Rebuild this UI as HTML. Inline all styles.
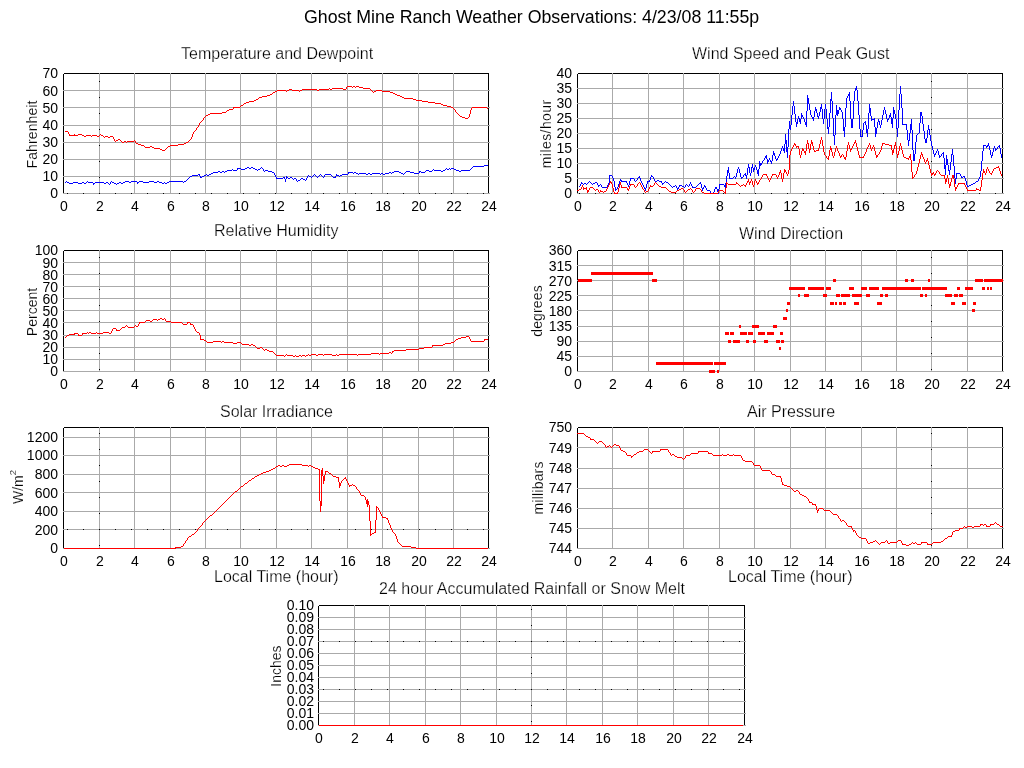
<!DOCTYPE html><html><head><meta charset="utf-8"><style>html,body{margin:0;padding:0;background:#fff;width:1024px;height:768px;overflow:hidden}</style></head><body><svg width="1024" height="768" viewBox="0 0 1024 768" style="display:block;will-change:transform;font-family:'Liberation Sans',sans-serif" shape-rendering="crispEdges">
<style>.t16{stroke:#fff;stroke-width:0.25px}.t14{stroke:#fff;stroke-width:0.15px}</style>
<rect width="1024" height="768" fill="#fff"/>
<path d="M63.5 193V74M64 73.5H489M488.5 73V193" stroke="#000" fill="none"/>
<path d="M99.5 73V194M134.5 73V194M170.5 73V194M205.5 73V194M240.5 73V194M276.5 73V194M311.5 73V194M347.5 73V194M382.5 73V194M418.5 73V194M453.5 73V194M63 90.5H490M63 107.5H490M63 125.5H490M63 142.5H490M63 159.5H490M63 176.5H490M63 193.5H490" stroke="#aaaaaa" fill="none"/>
<text x="58" y="198" font-size="14" text-anchor="end" >0</text>
<text x="58" y="181" font-size="14" text-anchor="end" >10</text>
<text x="58" y="164" font-size="14" text-anchor="end" >20</text>
<text x="58" y="147" font-size="14" text-anchor="end" >30</text>
<text x="58" y="130" font-size="14" text-anchor="end" >40</text>
<text x="58" y="113" font-size="14" text-anchor="end" >50</text>
<text x="58" y="96" font-size="14" text-anchor="end" >60</text>
<text x="58" y="78" font-size="14" text-anchor="end" >70</text>
<text x="64" y="211" font-size="14" text-anchor="middle" >0</text>
<text x="100" y="211" font-size="14" text-anchor="middle" >2</text>
<text x="135" y="211" font-size="14" text-anchor="middle" >4</text>
<text x="171" y="211" font-size="14" text-anchor="middle" >6</text>
<text x="206" y="211" font-size="14" text-anchor="middle" >8</text>
<text x="241" y="211" font-size="14" text-anchor="middle" >10</text>
<text x="277" y="211" font-size="14" text-anchor="middle" >12</text>
<text x="312" y="211" font-size="14" text-anchor="middle" >14</text>
<text x="348" y="211" font-size="14" text-anchor="middle" >16</text>
<text x="383" y="211" font-size="14" text-anchor="middle" >18</text>
<text x="419" y="211" font-size="14" text-anchor="middle" >20</text>
<text x="454" y="211" font-size="14" text-anchor="middle" >22</text>
<text x="489" y="211" font-size="14" text-anchor="middle" >24</text>
<path d="M577.5 193V74M578 73.5H1003M1002.5 73V193" stroke="#000" fill="none"/>
<path d="M612.5 73V194M648.5 73V194M683.5 73V194M719.5 73V194M754.5 73V194M790.5 73V194M825.5 73V194M861.5 73V194M896.5 73V194M931.5 73V194M967.5 73V194M577 88.5H1004M577 103.5H1004M577 118.5H1004M577 133.5H1004M577 148.5H1004M577 163.5H1004M577 178.5H1004M577 193.5H1004" stroke="#aaaaaa" fill="none"/>
<text x="572" y="198" font-size="14" text-anchor="end" >0</text>
<text x="572" y="183" font-size="14" text-anchor="end" >5</text>
<text x="572" y="168" font-size="14" text-anchor="end" >10</text>
<text x="572" y="153" font-size="14" text-anchor="end" >15</text>
<text x="572" y="138" font-size="14" text-anchor="end" >20</text>
<text x="572" y="123" font-size="14" text-anchor="end" >25</text>
<text x="572" y="108" font-size="14" text-anchor="end" >30</text>
<text x="572" y="93" font-size="14" text-anchor="end" >35</text>
<text x="572" y="78" font-size="14" text-anchor="end" >40</text>
<text x="578" y="211" font-size="14" text-anchor="middle" >0</text>
<text x="613" y="211" font-size="14" text-anchor="middle" >2</text>
<text x="649" y="211" font-size="14" text-anchor="middle" >4</text>
<text x="684" y="211" font-size="14" text-anchor="middle" >6</text>
<text x="720" y="211" font-size="14" text-anchor="middle" >8</text>
<text x="755" y="211" font-size="14" text-anchor="middle" >10</text>
<text x="791" y="211" font-size="14" text-anchor="middle" >12</text>
<text x="826" y="211" font-size="14" text-anchor="middle" >14</text>
<text x="862" y="211" font-size="14" text-anchor="middle" >16</text>
<text x="897" y="211" font-size="14" text-anchor="middle" >18</text>
<text x="932" y="211" font-size="14" text-anchor="middle" >20</text>
<text x="968" y="211" font-size="14" text-anchor="middle" >22</text>
<text x="1003" y="211" font-size="14" text-anchor="middle" >24</text>
<path d="M63.5 371V251M64 250.5H489M488.5 250V371" stroke="#000" fill="none"/>
<path d="M99.5 250V372M134.5 250V372M170.5 250V372M205.5 250V372M240.5 250V372M276.5 250V372M311.5 250V372M347.5 250V372M382.5 250V372M418.5 250V372M453.5 250V372M63 262.5H490M63 274.5H490M63 286.5H490M63 298.5H490M63 310.5H490M63 322.5H490M63 335.5H490M63 347.5H490M63 359.5H490M63 371.5H490" stroke="#aaaaaa" fill="none"/>
<text x="58" y="376" font-size="14" text-anchor="end" >0</text>
<text x="58" y="364" font-size="14" text-anchor="end" >10</text>
<text x="58" y="352" font-size="14" text-anchor="end" >20</text>
<text x="58" y="340" font-size="14" text-anchor="end" >30</text>
<text x="58" y="328" font-size="14" text-anchor="end" >40</text>
<text x="58" y="316" font-size="14" text-anchor="end" >50</text>
<text x="58" y="304" font-size="14" text-anchor="end" >60</text>
<text x="58" y="292" font-size="14" text-anchor="end" >70</text>
<text x="58" y="280" font-size="14" text-anchor="end" >80</text>
<text x="58" y="268" font-size="14" text-anchor="end" >90</text>
<text x="58" y="255" font-size="14" text-anchor="end" >100</text>
<text x="64" y="389" font-size="14" text-anchor="middle" >0</text>
<text x="100" y="389" font-size="14" text-anchor="middle" >2</text>
<text x="135" y="389" font-size="14" text-anchor="middle" >4</text>
<text x="171" y="389" font-size="14" text-anchor="middle" >6</text>
<text x="206" y="389" font-size="14" text-anchor="middle" >8</text>
<text x="241" y="389" font-size="14" text-anchor="middle" >10</text>
<text x="277" y="389" font-size="14" text-anchor="middle" >12</text>
<text x="312" y="389" font-size="14" text-anchor="middle" >14</text>
<text x="348" y="389" font-size="14" text-anchor="middle" >16</text>
<text x="383" y="389" font-size="14" text-anchor="middle" >18</text>
<text x="419" y="389" font-size="14" text-anchor="middle" >20</text>
<text x="454" y="389" font-size="14" text-anchor="middle" >22</text>
<text x="489" y="389" font-size="14" text-anchor="middle" >24</text>
<path d="M577.5 371V251M578 250.5H1003M1002.5 250V371" stroke="#000" fill="none"/>
<path d="M612.5 250V372M648.5 250V372M683.5 250V372M719.5 250V372M754.5 250V372M790.5 250V372M825.5 250V372M861.5 250V372M896.5 250V372M931.5 250V372M967.5 250V372M577 265.5H1004M577 280.5H1004M577 295.5H1004M577 310.5H1004M577 326.5H1004M577 341.5H1004M577 356.5H1004M577 371.5H1004" stroke="#aaaaaa" fill="none"/>
<text x="572" y="376" font-size="14" text-anchor="end" >0</text>
<text x="572" y="361" font-size="14" text-anchor="end" >45</text>
<text x="572" y="346" font-size="14" text-anchor="end" >90</text>
<text x="572" y="331" font-size="14" text-anchor="end" >135</text>
<text x="572" y="316" font-size="14" text-anchor="end" >180</text>
<text x="572" y="301" font-size="14" text-anchor="end" >225</text>
<text x="572" y="286" font-size="14" text-anchor="end" >270</text>
<text x="572" y="271" font-size="14" text-anchor="end" >315</text>
<text x="572" y="255" font-size="14" text-anchor="end" >360</text>
<text x="578" y="389" font-size="14" text-anchor="middle" >0</text>
<text x="613" y="389" font-size="14" text-anchor="middle" >2</text>
<text x="649" y="389" font-size="14" text-anchor="middle" >4</text>
<text x="684" y="389" font-size="14" text-anchor="middle" >6</text>
<text x="720" y="389" font-size="14" text-anchor="middle" >8</text>
<text x="755" y="389" font-size="14" text-anchor="middle" >10</text>
<text x="791" y="389" font-size="14" text-anchor="middle" >12</text>
<text x="826" y="389" font-size="14" text-anchor="middle" >14</text>
<text x="862" y="389" font-size="14" text-anchor="middle" >16</text>
<text x="897" y="389" font-size="14" text-anchor="middle" >18</text>
<text x="932" y="389" font-size="14" text-anchor="middle" >20</text>
<text x="968" y="389" font-size="14" text-anchor="middle" >22</text>
<text x="1003" y="389" font-size="14" text-anchor="middle" >24</text>
<path d="M63.5 548V428M64 427.5H489M488.5 427V548" stroke="#000" fill="none"/>
<path d="M99.5 427V549M134.5 427V549M170.5 427V549M205.5 427V549M240.5 427V549M276.5 427V549M311.5 427V549M347.5 427V549M382.5 427V549M418.5 427V549M453.5 427V549M63 437.5H490M63 455.5H490M63 474.5H490M63 492.5H490M63 511.5H490M63 529.5H490M63 548.5H490" stroke="#aaaaaa" fill="none"/>
<text x="58" y="553" font-size="14" text-anchor="end" >0</text>
<text x="58" y="535" font-size="14" text-anchor="end" >200</text>
<text x="58" y="516" font-size="14" text-anchor="end" >400</text>
<text x="58" y="498" font-size="14" text-anchor="end" >600</text>
<text x="58" y="479" font-size="14" text-anchor="end" >800</text>
<text x="58" y="460" font-size="14" text-anchor="end" >1000</text>
<text x="58" y="442" font-size="14" text-anchor="end" >1200</text>
<text x="64" y="566" font-size="14" text-anchor="middle" >0</text>
<text x="100" y="566" font-size="14" text-anchor="middle" >2</text>
<text x="135" y="566" font-size="14" text-anchor="middle" >4</text>
<text x="171" y="566" font-size="14" text-anchor="middle" >6</text>
<text x="206" y="566" font-size="14" text-anchor="middle" >8</text>
<text x="241" y="566" font-size="14" text-anchor="middle" >10</text>
<text x="277" y="566" font-size="14" text-anchor="middle" >12</text>
<text x="312" y="566" font-size="14" text-anchor="middle" >14</text>
<text x="348" y="566" font-size="14" text-anchor="middle" >16</text>
<text x="383" y="566" font-size="14" text-anchor="middle" >18</text>
<text x="419" y="566" font-size="14" text-anchor="middle" >20</text>
<text x="454" y="566" font-size="14" text-anchor="middle" >22</text>
<text x="489" y="566" font-size="14" text-anchor="middle" >24</text>
<path d="M577.5 548V428M578 427.5H1003M1002.5 427V548" stroke="#000" fill="none"/>
<path d="M612.5 427V549M648.5 427V549M683.5 427V549M719.5 427V549M754.5 427V549M790.5 427V549M825.5 427V549M861.5 427V549M896.5 427V549M931.5 427V549M967.5 427V549M577 447.5H1004M577 468.5H1004M577 488.5H1004M577 508.5H1004M577 528.5H1004M577 548.5H1004" stroke="#aaaaaa" fill="none"/>
<text x="572" y="553" font-size="14" text-anchor="end" >744</text>
<text x="572" y="533" font-size="14" text-anchor="end" >745</text>
<text x="572" y="513" font-size="14" text-anchor="end" >746</text>
<text x="572" y="493" font-size="14" text-anchor="end" >747</text>
<text x="572" y="473" font-size="14" text-anchor="end" >748</text>
<text x="572" y="453" font-size="14" text-anchor="end" >749</text>
<text x="572" y="432" font-size="14" text-anchor="end" >750</text>
<text x="578" y="566" font-size="14" text-anchor="middle" >0</text>
<text x="613" y="566" font-size="14" text-anchor="middle" >2</text>
<text x="649" y="566" font-size="14" text-anchor="middle" >4</text>
<text x="684" y="566" font-size="14" text-anchor="middle" >6</text>
<text x="720" y="566" font-size="14" text-anchor="middle" >8</text>
<text x="755" y="566" font-size="14" text-anchor="middle" >10</text>
<text x="791" y="566" font-size="14" text-anchor="middle" >12</text>
<text x="826" y="566" font-size="14" text-anchor="middle" >14</text>
<text x="862" y="566" font-size="14" text-anchor="middle" >16</text>
<text x="897" y="566" font-size="14" text-anchor="middle" >18</text>
<text x="932" y="566" font-size="14" text-anchor="middle" >20</text>
<text x="968" y="566" font-size="14" text-anchor="middle" >22</text>
<text x="1003" y="566" font-size="14" text-anchor="middle" >24</text>
<path d="M318.5 725V606M319 605.5H745M744.5 605V725" stroke="#000" fill="none"/>
<path d="M354.5 605V726M389.5 605V726M425.5 605V726M460.5 605V726M496.5 605V726M531.5 605V726M566.5 605V726M602.5 605V726M637.5 605V726M673.5 605V726M708.5 605V726M318 617.5H746M318 629.5H746M318 641.5H746M318 653.5H746M318 665.5H746M318 677.5H746M318 689.5H746M318 701.5H746M318 713.5H746M318 725.5H746" stroke="#aaaaaa" fill="none"/>
<text x="314" y="730" font-size="14" text-anchor="end" >0.00</text>
<text x="314" y="718" font-size="14" text-anchor="end" >0.01</text>
<text x="314" y="706" font-size="14" text-anchor="end" >0.02</text>
<text x="314" y="694" font-size="14" text-anchor="end" >0.03</text>
<text x="314" y="682" font-size="14" text-anchor="end" >0.04</text>
<text x="314" y="670" font-size="14" text-anchor="end" >0.05</text>
<text x="314" y="658" font-size="14" text-anchor="end" >0.06</text>
<text x="314" y="646" font-size="14" text-anchor="end" >0.07</text>
<text x="314" y="634" font-size="14" text-anchor="end" >0.08</text>
<text x="314" y="622" font-size="14" text-anchor="end" >0.09</text>
<text x="314" y="610" font-size="14" text-anchor="end" >0.10</text>
<text x="319" y="743" font-size="14" text-anchor="middle" >0</text>
<text x="355" y="743" font-size="14" text-anchor="middle" >2</text>
<text x="390" y="743" font-size="14" text-anchor="middle" >4</text>
<text x="426" y="743" font-size="14" text-anchor="middle" >6</text>
<text x="461" y="743" font-size="14" text-anchor="middle" >8</text>
<text x="497" y="743" font-size="14" text-anchor="middle" >10</text>
<text x="532" y="743" font-size="14" text-anchor="middle" >12</text>
<text x="567" y="743" font-size="14" text-anchor="middle" >14</text>
<text x="603" y="743" font-size="14" text-anchor="middle" >16</text>
<text x="638" y="743" font-size="14" text-anchor="middle" >18</text>
<text x="674" y="743" font-size="14" text-anchor="middle" >20</text>
<text x="709" y="743" font-size="14" text-anchor="middle" >22</text>
<text x="745" y="743" font-size="14" text-anchor="middle" >24</text>
<path d="M99 81.5h1M99 97.5h1M99 113.5h1M99 129.5h1M99 145.5h1M99 161.5h1M99 177.5h1M99 193.5h1M67 193.5h1M83 193.5h1M99 193.5h1M115 193.5h1M131 193.5h1M147 193.5h1M163 193.5h1M179 193.5h1M195 193.5h1M211 193.5h1M227 193.5h1M243 193.5h1M259 193.5h1M275 193.5h1M291 193.5h1M307 193.5h1M323 193.5h1M339 193.5h1M355 193.5h1M371 193.5h1M387 193.5h1M403 193.5h1M419 193.5h1M435 193.5h1M451 193.5h1M467 193.5h1M483 193.5h1M931 81.5h1M931 97.5h1M931 113.5h1M931 129.5h1M931 145.5h1M931 161.5h1M931 177.5h1M931 193.5h1M579 193.5h1M595 193.5h1M611 193.5h1M627 193.5h1M643 193.5h1M659 193.5h1M675 193.5h1M691 193.5h1M707 193.5h1M723 193.5h1M739 193.5h1M755 193.5h1M771 193.5h1M787 193.5h1M803 193.5h1M819 193.5h1M835 193.5h1M851 193.5h1M867 193.5h1M883 193.5h1M899 193.5h1M915 193.5h1M931 193.5h1M947 193.5h1M963 193.5h1M979 193.5h1M995 193.5h1M99 257.5h1M99 273.5h1M99 289.5h1M99 305.5h1M99 321.5h1M99 337.5h1M99 353.5h1M99 369.5h1M931 257.5h1M931 273.5h1M931 289.5h1M931 305.5h1M931 321.5h1M931 337.5h1M931 353.5h1M931 369.5h1M99 433.5h1M99 449.5h1M99 465.5h1M99 481.5h1M99 497.5h1M99 513.5h1M99 529.5h1M99 545.5h1M67 529.5h1M83 529.5h1M99 529.5h1M115 529.5h1M131 529.5h1M147 529.5h1M163 529.5h1M179 529.5h1M195 529.5h1M211 529.5h1M227 529.5h1M243 529.5h1M259 529.5h1M275 529.5h1M291 529.5h1M307 529.5h1M323 529.5h1M339 529.5h1M355 529.5h1M371 529.5h1M387 529.5h1M403 529.5h1M419 529.5h1M435 529.5h1M451 529.5h1M467 529.5h1M483 529.5h1M931 433.5h1M931 449.5h1M931 465.5h1M931 481.5h1M931 497.5h1M931 513.5h1M931 529.5h1M931 545.5h1M531 609.5h1M531 625.5h1M531 641.5h1M531 657.5h1M531 673.5h1M531 689.5h1M531 705.5h1M531 721.5h1M323 641.5h1M339 641.5h1M355 641.5h1M371 641.5h1M387 641.5h1M403 641.5h1M419 641.5h1M435 641.5h1M451 641.5h1M467 641.5h1M483 641.5h1M499 641.5h1M515 641.5h1M531 641.5h1M547 641.5h1M563 641.5h1M579 641.5h1M595 641.5h1M611 641.5h1M627 641.5h1M643 641.5h1M659 641.5h1M675 641.5h1M691 641.5h1M707 641.5h1M723 641.5h1M739 641.5h1M323 689.5h1M339 689.5h1M355 689.5h1M371 689.5h1M387 689.5h1M403 689.5h1M419 689.5h1M435 689.5h1M451 689.5h1M467 689.5h1M483 689.5h1M499 689.5h1M515 689.5h1M531 689.5h1M547 689.5h1M563 689.5h1M579 689.5h1M595 689.5h1M611 689.5h1M627 689.5h1M643 689.5h1M659 689.5h1M675 689.5h1M691 689.5h1M707 689.5h1M723 689.5h1M739 689.5h1" stroke="#000" fill="none"/>
<text x="304" y="23" font-size="17.75" text-anchor="start" >Ghost Mine Ranch Weather Observations: 4/23/08 11:55p</text>
<text x="181" y="59" font-size="16" text-anchor="start" class="t16">Temperature and Dewpoint</text>
<text x="692" y="59" font-size="16" text-anchor="start" class="t16">Wind Speed and Peak Gust</text>
<text x="214" y="236" font-size="16" text-anchor="start" class="t16">Relative Humidity</text>
<text x="739" y="239" font-size="16" text-anchor="start" class="t16">Wind Direction</text>
<text x="220" y="417" font-size="16" text-anchor="start" class="t16">Solar Irradiance</text>
<text x="747" y="417" font-size="16" text-anchor="start" class="t16">Air Pressure</text>
<text x="214" y="582" font-size="16" text-anchor="start" class="t16">Local Time (hour)</text>
<text x="728" y="582" font-size="16" text-anchor="start" class="t16">Local Time (hour)</text>
<text x="379" y="594" font-size="16" text-anchor="start" class="t16">24 hour Accumulated Rainfall or Snow Melt</text>
<text class="t14" transform="translate(37 134.5) rotate(-90)" font-size="14" text-anchor="middle" textLength="68" lengthAdjust="spacing">Fahrenheit</text>
<text class="t14" transform="translate(551 134) rotate(-90)" font-size="14" text-anchor="middle" textLength="68.5" lengthAdjust="spacing">miles/hour</text>
<text class="t14" transform="translate(37 312) rotate(-90)" font-size="14" text-anchor="middle">Percent</text>
<text class="t14" transform="translate(542 311) rotate(-90)" font-size="14" text-anchor="middle" textLength="51.5" lengthAdjust="spacing">degrees</text>
<text class="t14" transform="translate(23 487) rotate(-90)" font-size="14" text-anchor="middle">W/m<tspan dy="-7" font-size="9.5">2</tspan></text>
<text class="t14" transform="translate(543 488) rotate(-90)" font-size="14" text-anchor="middle" textLength="53" lengthAdjust="spacing">millibars</text>
<text class="t14" transform="translate(281 666) rotate(-90)" font-size="14" text-anchor="middle">Inches</text>
<path d="M210 113.5H222M457 113.5H458M470 113.5H471M69 135.5H78M82 135.5H84M86 135.5H91M92 135.5H97M99 135.5H100M101 135.5H103M192 135.5H193M258 98.5H259M404 98.5H413M262 96.5H267M400 96.5H402M144 146.5H145M150 146.5H152M168 146.5H170M113 138.5H114M191 138.5H192M145 147.5H150M152 147.5H154M167 147.5H168M197 127.5H198M254 100.5H256M416 100.5H422M329 88.5H330M332 88.5H343M346 88.5H347M363 88.5H370M347 86.5H352M353 86.5H355M356 86.5H359M246 102.5H249M428 102.5H435M204 117.5H205M462 117.5H465M468 117.5H469M114 140.5H115M116 140.5H118M120 140.5H121M134 140.5H135M189 140.5H190M346 87.5H347M352 87.5H353M355 87.5H356M359 87.5H363M259 97.5H262M402 97.5H404M115 141.5H116M121 141.5H122M124 141.5H126M127 141.5H134M135 141.5H136M188 141.5H189M203 118.5H204M465 118.5H468M273 92.5H275M373 92.5H374M390 92.5H393M270 94.5H272M395 94.5H397M227 110.5H229M455 110.5H456M470 110.5H471M84 136.5H86M91 136.5H92M97 136.5H99M103 136.5H104M105 136.5H108M110 136.5H113M192 136.5H193M277 90.5H286M287 90.5H289M292 90.5H299M300 90.5H302M317 90.5H319M371 90.5H372M376 90.5H382M275 91.5H277M286 91.5H287M299 91.5H300M372 91.5H373M374 91.5H376M382 91.5H390M233 107.5H240M451 107.5H453M472 107.5H487M222 112.5H226M456 112.5H457M470 112.5H471M138 144.5H141M178 144.5H184M289 89.5H292M302 89.5H317M319 89.5H329M330 89.5H332M343 89.5H346M370 89.5H371M104 137.5H105M108 137.5H110M113 137.5H114M191 137.5H192M136 143.5H138M184 143.5H186M154 148.5H160M166 148.5H167M122 142.5H124M126 142.5H127M135 142.5H136M186 142.5H188M240 106.5H241M447 106.5H451M249 101.5H254M422 101.5H428M141 145.5H144M170 145.5H178M68 133.5H69M193 133.5H194M244 103.5H246M435 103.5H441M208 114.5H210M458 114.5H459M469 114.5H470M226 111.5H227M455 111.5H456M470 111.5H471M160 149.5H162M165 149.5H166M69 134.5H70M74 134.5H75M78 134.5H82M100 134.5H101M192 134.5H193M162 150.5H165M267 95.5H270M397 95.5H400M241 105.5H243M443 105.5H447M196 129.5H197M68 132.5H69M193 132.5H194M229 109.5H233M454 109.5H455M471 109.5H472M200 122.5H201M65 131.5H68M194 131.5H195M205 116.5H206M460 116.5H462M469 116.5H470M256 99.5H258M413 99.5H416M206 115.5H208M459 115.5H460M469 115.5H470M199 124.5H200M272 93.5H273M393 93.5H395M233 108.5H234M453 108.5H454M471 108.5H472M487 108.5H488M114 139.5H115M118 139.5H120M190 139.5H191M202 120.5H203M199 123.5H200M195 130.5H196M198 126.5H199M243 104.5H244M441 104.5H443M196 128.5H197M201 121.5H202M203 119.5H204M198 125.5H199" stroke="#ff0000" fill="none"/>
<path d="M66 181.5H67M87 181.5H88M111 181.5H112M125 181.5H129M131 181.5H137M139 181.5H143M149 181.5H154M157 181.5H159M169 181.5H183M184 181.5H186M285 181.5H286M297 181.5H298M198 174.5H200M206 174.5H207M209 174.5H211M274 174.5H275M314 174.5H315M320 174.5H321M325 174.5H331M336 174.5H337M342 174.5H348M358 174.5H359M366 174.5H368M370 174.5H372M380 174.5H381M383 174.5H385M403 174.5H404M218 171.5H220M222 171.5H224M225 171.5H227M264 171.5H265M268 171.5H272M394 171.5H399M406 171.5H410M419 171.5H421M425 171.5H426M429 171.5H432M441 171.5H443M459 171.5H461M227 170.5H232M233 170.5H237M257 170.5H258M263 170.5H264M265 170.5H268M426 170.5H429M432 170.5H433M434 170.5H441M443 170.5H445M456 170.5H459M461 170.5H470M69 183.5H73M78 183.5H82M84 183.5H86M93 183.5H95M104 183.5H106M108 183.5H109M110 183.5H111M114 183.5H116M117 183.5H119M121 183.5H123M137 183.5H138M162 183.5H164M165 183.5H167M213 172.5H218M220 172.5H222M224 172.5H225M272 172.5H274M348 172.5H353M354 172.5H356M389 172.5H391M392 172.5H394M399 172.5H401M405 172.5H406M410 172.5H414M419 172.5H420M421 172.5H425M192 175.5H198M199 175.5H200M204 175.5H206M207 175.5H209M275 175.5H276M308 175.5H309M313 175.5H314M315 175.5H316M319 175.5H320M321 175.5H322M324 175.5H325M331 175.5H332M336 175.5H339M340 175.5H342M473 166.5H484M237 168.5H241M245 168.5H247M249 168.5H251M253 168.5H255M260 168.5H261M262 168.5H263M446 168.5H447M449 168.5H450M451 168.5H454M471 168.5H472M188 178.5H189M276 178.5H283M284 178.5H285M286 178.5H287M288 178.5H290M292 178.5H293M294 178.5H296M301 178.5H303M306 178.5H307M211 173.5H213M274 173.5H275M348 173.5H349M353 173.5H354M356 173.5H358M359 173.5H366M368 173.5H370M372 173.5H380M381 173.5H383M385 173.5H389M391 173.5H392M401 173.5H403M404 173.5H405M414 173.5H419M189 177.5H190M200 177.5H202M276 177.5H277M283 177.5H285M286 177.5H288M290 177.5H292M307 177.5H308M311 177.5H312M317 177.5H318M323 177.5H324M333 177.5H336M232 169.5H233M237 169.5H238M241 169.5H245M255 169.5H257M258 169.5H260M263 169.5H264M433 169.5H434M445 169.5H446M447 169.5H449M450 169.5H451M454 169.5H456M470 169.5H471M93 184.5H94M109 184.5H110M116 184.5H117M65 182.5H66M67 182.5H69M73 182.5H78M82 182.5H84M86 182.5H87M88 182.5H93M95 182.5H104M106 182.5H108M110 182.5H111M112 182.5H114M119 182.5H121M123 182.5H125M129 182.5H131M137 182.5H139M143 182.5H149M154 182.5H157M159 182.5H162M164 182.5H165M167 182.5H169M183 182.5H184M190 176.5H192M200 176.5H201M202 176.5H204M275 176.5H276M286 176.5H287M307 176.5H308M309 176.5H311M312 176.5H313M316 176.5H317M318 176.5H319M322 176.5H323M324 176.5H325M332 176.5H333M335 176.5H336M339 176.5H340M247 167.5H249M251 167.5H253M261 167.5H262M472 167.5H473M484 165.5H488M187 179.5H188M285 179.5H286M293 179.5H294M296 179.5H297M300 179.5H301M303 179.5H305M306 179.5H307M186 180.5H187M285 180.5H286M296 180.5H297M298 180.5H300M305 180.5H306" stroke="#0000ff" fill="none"/>
<path d="M791 116.5H792M795 116.5H796M798 116.5H799M801 116.5H803M806 116.5H807M811 116.5H812M814 116.5H815M817 116.5H819M822 116.5H823M824 116.5H825M826 116.5H827M829 116.5H830M832 116.5H833M835 116.5H836M842 116.5H843M845 116.5H846M850 116.5H851M853 116.5H854M859 116.5H860M868 116.5H869M871 116.5H872M882 116.5H883M886 116.5H887M889 116.5H891M893 116.5H894M895 116.5H896M898 116.5H899M902 116.5H903M920 116.5H921M922 116.5H923M831 94.5H832M848 94.5H850M854 94.5H855M857 94.5H858M899 94.5H900M901 94.5H902M781 148.5H782M783 148.5H785M786 148.5H788M912 148.5H913M915 148.5H916M932 148.5H933M983 148.5H984M989 148.5H990M993 148.5H994M995 148.5H996M997 148.5H998M1000 148.5H1001M589 181.5H590M609 181.5H610M614 181.5H615M619 181.5H620M621 181.5H627M629 181.5H630M635 181.5H636M641 181.5H642M647 181.5H650M655 181.5H657M659 181.5H662M665 181.5H666M726 181.5H727M955 181.5H956M966 181.5H967M976 181.5H978M748 164.5H749M752 164.5H753M759 164.5H762M944 164.5H945M946 164.5H948M950 164.5H951M953 164.5H954M981 164.5H982M789 123.5H790M791 123.5H792M796 123.5H798M800 123.5H801M805 123.5H807M823 123.5H824M827 123.5H828M829 123.5H830M833 123.5H834M835 123.5H836M843 123.5H844M845 123.5H846M851 123.5H853M859 123.5H860M863 123.5H864M865 123.5H866M868 123.5H869M874 123.5H875M877 123.5H878M879 123.5H880M881 123.5H882M891 123.5H893M896 123.5H897M898 123.5H899M902 123.5H903M911 123.5H912M919 123.5H920M922 123.5H923M784 145.5H785M786 145.5H787M788 145.5H789M908 145.5H909M912 145.5H913M915 145.5H916M931 145.5H932M983 145.5H986M987 145.5H989M999 145.5H1000M728 168.5H729M738 168.5H739M747 168.5H748M749 168.5H750M751 168.5H752M753 168.5H755M756 168.5H757M759 168.5H760M944 168.5H946M948 168.5H949M950 168.5H951M954 168.5H955M981 168.5H982M785 135.5H786M788 135.5H789M833 135.5H835M844 135.5H845M860 135.5H861M862 135.5H863M867 135.5H868M875 135.5H876M897 135.5H898M907 135.5H908M909 135.5H910M912 135.5H913M916 135.5H917M924 135.5H925M927 135.5H928M930 135.5H931M788 131.5H789M828 131.5H829M833 131.5H834M835 131.5H836M844 131.5H845M860 131.5H861M862 131.5H863M866 131.5H868M875 131.5H877M897 131.5H898M907 131.5H908M910 131.5H911M912 131.5H913M919 131.5H920M924 131.5H925M927 131.5H928M929 131.5H930M727 173.5H728M729 173.5H730M736 173.5H737M740 173.5H741M745 173.5H746M747 173.5H748M750 173.5H751M757 173.5H759M945 173.5H946M949 173.5H950M954 173.5H955M956 173.5H960M980 173.5H981M609 180.5H610M613 180.5H614M620 180.5H622M630 180.5H631M634 180.5H635M636 180.5H637M640 180.5H641M649 180.5H650M654 180.5H655M657 180.5H659M726 180.5H727M955 180.5H956M965 180.5H966M978 180.5H979M789 127.5H791M827 127.5H829M833 127.5H834M835 127.5H836M843 127.5H845M851 127.5H853M859 127.5H860M863 127.5H864M866 127.5H867M868 127.5H869M875 127.5H876M877 127.5H878M880 127.5H881M892 127.5H893M896 127.5H897M898 127.5H899M906 127.5H907M910 127.5H912M919 127.5H920M923 127.5H924M928 127.5H929M785 140.5H787M788 140.5H789M834 140.5H835M908 140.5H910M912 140.5H913M916 140.5H917M925 140.5H927M930 140.5H931M788 129.5H789M790 129.5H791M828 129.5H829M833 129.5H834M835 129.5H836M843 129.5H845M860 129.5H861M863 129.5H864M866 129.5H868M875 129.5H877M897 129.5H898M906 129.5H907M910 129.5H912M919 129.5H920M923 129.5H924M928 129.5H930M785 141.5H787M788 141.5H789M834 141.5H835M908 141.5H909M912 141.5H913M916 141.5H917M925 141.5H927M931 141.5H932M766 155.5H767M772 155.5H773M774 155.5H775M779 155.5H780M787 155.5H788M913 155.5H915M934 155.5H935M939 155.5H940M941 155.5H942M943 155.5H944M946 155.5H947M951 155.5H952M953 155.5H954M982 155.5H983M991 155.5H993M1001 155.5H1002M789 128.5H791M827 128.5H829M833 128.5H834M835 128.5H836M843 128.5H845M859 128.5H860M863 128.5H864M866 128.5H867M868 128.5H869M875 128.5H877M896 128.5H898M906 128.5H907M910 128.5H912M919 128.5H920M923 128.5H924M928 128.5H929M773 154.5H775M779 154.5H780M787 154.5H788M913 154.5H915M934 154.5H936M938 154.5H939M941 154.5H942M943 154.5H944M951 154.5H953M982 154.5H983M990 154.5H991M992 154.5H993M1001 154.5H1002M792 114.5H793M795 114.5H796M801 114.5H802M806 114.5H807M810 114.5H811M814 114.5H815M817 114.5H818M819 114.5H820M822 114.5H823M824 114.5H825M826 114.5H827M829 114.5H830M832 114.5H833M836 114.5H838M842 114.5H843M845 114.5H846M850 114.5H851M853 114.5H854M858 114.5H859M868 114.5H869M870 114.5H871M883 114.5H884M886 114.5H887M890 114.5H891M893 114.5H894M895 114.5H896M898 114.5H899M902 114.5H903M920 114.5H922M580 184.5H581M583 184.5H584M586 184.5H587M592 184.5H593M597 184.5H598M600 184.5H601M608 184.5H609M614 184.5H615M618 184.5H619M627 184.5H628M629 184.5H630M642 184.5H643M646 184.5H647M662 184.5H663M669 184.5H670M686 184.5H687M689 184.5H690M691 184.5H692M698 184.5H699M701 184.5H702M719 184.5H724M725 184.5H726M966 184.5H967M971 184.5H973M580 185.5H581M598 185.5H600M601 185.5H602M607 185.5H608M614 185.5H615M618 185.5H619M628 185.5H629M643 185.5H644M646 185.5H647M670 185.5H671M675 185.5H676M679 185.5H682M685 185.5H686M687 185.5H688M689 185.5H690M691 185.5H692M697 185.5H698M701 185.5H702M704 185.5H705M719 185.5H720M724 185.5H726M967 185.5H968M969 185.5H971M792 110.5H793M794 110.5H795M807 110.5H808M810 110.5H811M815 110.5H817M820 110.5H821M822 110.5H823M824 110.5H825M826 110.5H827M830 110.5H831M832 110.5H833M836 110.5H839M841 110.5H842M845 110.5H846M850 110.5H851M853 110.5H854M858 110.5H859M869 110.5H871M883 110.5H884M885 110.5H886M893 110.5H895M898 110.5H899M902 110.5H903M764 158.5H765M766 158.5H767M769 158.5H770M772 158.5H773M775 158.5H776M777 158.5H778M913 158.5H915M944 158.5H945M946 158.5H947M951 158.5H952M953 158.5H954M982 158.5H983M579 186.5H580M598 186.5H599M601 186.5H602M607 186.5H608M614 186.5H615M618 186.5H619M628 186.5H629M643 186.5H644M646 186.5H647M671 186.5H672M673 186.5H675M676 186.5H677M679 186.5H680M682 186.5H684M685 186.5H686M688 186.5H689M692 186.5H693M696 186.5H697M701 186.5H702M704 186.5H706M719 186.5H720M724 186.5H726M967 186.5H969M793 103.5H794M807 103.5H809M830 103.5H831M832 103.5H833M846 103.5H847M850 103.5H851M853 103.5H854M858 103.5H859M899 103.5H900M901 103.5H902M855 88.5H857M900 88.5H901M789 124.5H790M791 124.5H792M796 124.5H797M805 124.5H807M827 124.5H828M829 124.5H830M833 124.5H834M835 124.5H836M843 124.5H844M845 124.5H846M851 124.5H853M859 124.5H860M863 124.5H864M865 124.5H866M868 124.5H869M874 124.5H875M877 124.5H878M879 124.5H880M881 124.5H882M892 124.5H893M896 124.5H897M898 124.5H899M902 124.5H907M910 124.5H912M919 124.5H920M923 124.5H924M788 132.5H789M828 132.5H829M833 132.5H834M835 132.5H836M844 132.5H845M860 132.5H861M862 132.5H863M866 132.5H868M875 132.5H877M897 132.5H898M907 132.5H908M910 132.5H911M912 132.5H913M919 132.5H920M924 132.5H925M927 132.5H928M929 132.5H930M792 113.5H793M794 113.5H795M801 113.5H802M806 113.5H807M810 113.5H811M814 113.5H815M817 113.5H818M819 113.5H820M822 113.5H823M824 113.5H825M826 113.5H827M829 113.5H830M832 113.5H833M836 113.5H839M842 113.5H843M845 113.5H846M850 113.5H851M853 113.5H854M858 113.5H859M868 113.5H869M870 113.5H871M883 113.5H884M885 113.5H886M890 113.5H891M893 113.5H895M898 113.5H899M902 113.5H903M920 113.5H922M788 133.5H789M828 133.5H829M833 133.5H834M835 133.5H836M844 133.5H845M860 133.5H861M862 133.5H863M867 133.5H868M875 133.5H877M897 133.5H898M907 133.5H908M909 133.5H910M912 133.5H913M918 133.5H919M924 133.5H925M927 133.5H928M929 133.5H930M789 122.5H790M791 122.5H792M796 122.5H798M800 122.5H801M805 122.5H807M823 122.5H824M827 122.5H828M829 122.5H830M833 122.5H834M835 122.5H836M843 122.5H844M845 122.5H846M851 122.5H853M859 122.5H860M864 122.5H866M868 122.5H869M874 122.5H875M877 122.5H878M879 122.5H880M881 122.5H882M891 122.5H893M896 122.5H897M898 122.5H899M902 122.5H903M911 122.5H912M920 122.5H921M922 122.5H923M792 109.5H793M794 109.5H795M807 109.5H808M809 109.5H810M815 109.5H817M820 109.5H821M822 109.5H823M824 109.5H825M826 109.5H827M830 109.5H831M832 109.5H833M836 109.5H837M839 109.5H841M845 109.5H846M850 109.5H851M853 109.5H854M858 109.5H859M869 109.5H871M884 109.5H885M893 109.5H894M899 109.5H900M902 109.5H903M581 182.5H582M588 182.5H589M590 182.5H591M595 182.5H597M609 182.5H610M614 182.5H615M619 182.5H620M626 182.5H627M629 182.5H630M641 182.5H642M647 182.5H648M655 182.5H656M661 182.5H662M664 182.5H665M666 182.5H668M690 182.5H691M700 182.5H701M726 182.5H727M955 182.5H956M966 182.5H967M975 182.5H976M728 167.5H729M738 167.5H739M748 167.5H750M751 167.5H753M754 167.5H755M756 167.5H757M759 167.5H760M944 167.5H946M948 167.5H949M950 167.5H951M954 167.5H955M981 167.5H982M807 95.5H808M831 95.5H832M848 95.5H850M854 95.5H855M857 95.5H858M899 95.5H900M901 95.5H902M789 126.5H791M796 126.5H797M806 126.5H807M827 126.5H828M829 126.5H830M833 126.5H834M835 126.5H836M843 126.5H844M845 126.5H846M851 126.5H853M859 126.5H860M863 126.5H864M866 126.5H867M868 126.5H869M874 126.5H875M877 126.5H878M880 126.5H881M892 126.5H893M896 126.5H897M898 126.5H899M906 126.5H907M910 126.5H912M919 126.5H920M923 126.5H924M928 126.5H929M615 190.5H616M645 190.5H646M702 190.5H703M707 190.5H710M714 190.5H715M717 190.5H719M784 144.5H785M786 144.5H787M788 144.5H789M834 144.5H835M908 144.5H909M912 144.5H913M915 144.5H916M931 144.5H932M988 144.5H989M791 117.5H792M795 117.5H796M798 117.5H799M801 117.5H802M803 117.5H804M806 117.5H807M812 117.5H814M818 117.5H819M822 117.5H823M824 117.5H825M826 117.5H827M829 117.5H830M832 117.5H833M835 117.5H836M842 117.5H843M845 117.5H846M850 117.5H851M853 117.5H854M859 117.5H860M868 117.5H869M871 117.5H872M882 117.5H883M886 117.5H887M889 117.5H890M891 117.5H892M893 117.5H894M895 117.5H896M898 117.5H899M902 117.5H903M920 117.5H921M922 117.5H923M773 151.5H774M780 151.5H781M784 151.5H785M786 151.5H788M913 151.5H914M915 151.5H916M933 151.5H934M936 151.5H937M938 151.5H939M952 151.5H953M982 151.5H983M990 151.5H991M993 151.5H994M1000 151.5H1001M807 96.5H808M831 96.5H832M847 96.5H848M849 96.5H850M854 96.5H855M857 96.5H858M899 96.5H900M901 96.5H902M792 112.5H793M794 112.5H795M806 112.5H807M810 112.5H811M814 112.5H815M816 112.5H817M819 112.5H820M822 112.5H823M824 112.5H825M826 112.5H827M830 112.5H831M832 112.5H833M836 112.5H839M842 112.5H843M845 112.5H846M850 112.5H851M853 112.5H854M858 112.5H859M869 112.5H871M883 112.5H884M885 112.5H886M893 112.5H895M898 112.5H899M902 112.5H903M920 112.5H922M793 105.5H794M807 105.5H808M809 105.5H810M821 105.5H822M825 105.5H826M830 105.5H831M832 105.5H833M836 105.5H837M846 105.5H847M850 105.5H851M853 105.5H854M858 105.5H859M869 105.5H870M899 105.5H900M901 105.5H902M727 171.5H729M737 171.5H738M739 171.5H740M747 171.5H748M749 171.5H750M751 171.5H752M753 171.5H754M757 171.5H759M945 171.5H946M949 171.5H950M954 171.5H955M980 171.5H981M581 183.5H583M584 183.5H586M587 183.5H588M591 183.5H592M593 183.5H595M597 183.5H598M608 183.5H609M614 183.5H615M619 183.5H620M627 183.5H628M629 183.5H630M642 183.5H643M647 183.5H648M662 183.5H664M668 183.5H669M690 183.5H691M699 183.5H701M725 183.5H726M955 183.5H956M966 183.5H967M973 183.5H975M615 188.5H616M617 188.5H618M644 188.5H646M677 188.5H679M702 188.5H704M706 188.5H707M715 188.5H717M719 188.5H720M785 139.5H786M788 139.5H789M834 139.5H835M907 139.5H908M909 139.5H910M912 139.5H913M916 139.5H917M925 139.5H927M930 139.5H931M759 163.5H762M767 163.5H768M771 163.5H772M944 163.5H945M946 163.5H948M950 163.5H951M953 163.5H954M981 163.5H982M609 177.5H610M612 177.5H613M638 177.5H640M650 177.5H651M653 177.5H654M726 177.5H727M729 177.5H730M733 177.5H734M735 177.5H736M741 177.5H743M746 177.5H747M954 177.5H955M956 177.5H957M961 177.5H963M964 177.5H965M979 177.5H980M773 153.5H775M780 153.5H781M787 153.5H788M913 153.5H914M915 153.5H916M933 153.5H934M935 153.5H936M938 153.5H939M942 153.5H944M952 153.5H953M982 153.5H983M990 153.5H991M992 153.5H993M1000 153.5H1001M609 175.5H612M651 175.5H652M727 175.5H728M729 175.5H730M736 175.5H737M740 175.5H741M743 175.5H744M745 175.5H747M750 175.5H751M758 175.5H759M954 175.5H955M956 175.5H957M960 175.5H961M980 175.5H981M791 120.5H792M795 120.5H796M797 120.5H798M799 120.5H801M804 120.5H805M806 120.5H807M813 120.5H814M823 120.5H824M827 120.5H828M829 120.5H830M833 120.5H834M835 120.5H836M843 120.5H844M845 120.5H846M851 120.5H853M859 120.5H860M868 120.5H869M871 120.5H872M874 120.5H875M878 120.5H879M881 120.5H882M887 120.5H888M891 120.5H893M896 120.5H897M898 120.5H899M902 120.5H903M911 120.5H912M920 120.5H921M922 120.5H923M609 178.5H610M613 178.5H614M630 178.5H634M637 178.5H638M640 178.5H641M650 178.5H651M653 178.5H654M726 178.5H727M729 178.5H733M735 178.5H736M741 178.5H742M746 178.5H747M955 178.5H957M965 178.5H966M979 178.5H980M855 90.5H856M857 90.5H858M900 90.5H901M727 170.5H729M737 170.5H738M739 170.5H740M747 170.5H748M749 170.5H750M751 170.5H752M753 170.5H754M757 170.5H759M945 170.5H946M948 170.5H950M954 170.5H955M981 170.5H982M792 106.5H793M794 106.5H795M807 106.5H808M809 106.5H810M821 106.5H822M825 106.5H826M830 106.5H831M832 106.5H833M836 106.5H837M846 106.5H847M850 106.5H851M853 106.5H854M858 106.5H859M869 106.5H870M899 106.5H900M901 106.5H902M785 136.5H786M788 136.5H789M834 136.5H835M844 136.5H845M860 136.5H863M867 136.5H868M875 136.5H876M897 136.5H898M907 136.5H908M909 136.5H910M912 136.5H913M916 136.5H917M924 136.5H925M927 136.5H928M930 136.5H931M789 125.5H791M796 125.5H797M806 125.5H807M827 125.5H828M829 125.5H830M833 125.5H834M835 125.5H836M843 125.5H844M845 125.5H846M851 125.5H853M859 125.5H860M863 125.5H864M866 125.5H867M868 125.5H869M874 125.5H875M877 125.5H878M880 125.5H881M892 125.5H893M896 125.5H897M898 125.5H899M906 125.5H907M910 125.5H912M919 125.5H920M923 125.5H924M928 125.5H929M789 121.5H790M791 121.5H792M795 121.5H796M797 121.5H798M799 121.5H801M804 121.5H805M806 121.5H807M823 121.5H824M827 121.5H828M829 121.5H830M833 121.5H834M835 121.5H836M843 121.5H844M845 121.5H846M851 121.5H853M859 121.5H860M865 121.5H866M868 121.5H869M874 121.5H875M878 121.5H880M881 121.5H882M887 121.5H888M891 121.5H893M896 121.5H897M898 121.5H899M902 121.5H903M911 121.5H912M920 121.5H921M922 121.5H923M782 147.5H783M784 147.5H785M786 147.5H788M912 147.5H913M915 147.5H916M932 147.5H933M983 147.5H984M986 147.5H987M989 147.5H990M994 147.5H995M997 147.5H998M999 147.5H1000M765 157.5H767M772 157.5H773M775 157.5H776M778 157.5H779M787 157.5H788M913 157.5H915M939 157.5H940M943 157.5H944M946 157.5H947M951 157.5H952M953 157.5H954M982 157.5H983M991 157.5H992M1001 157.5H1002M788 130.5H789M828 130.5H829M833 130.5H834M835 130.5H836M843 130.5H845M860 130.5H861M862 130.5H863M866 130.5H868M875 130.5H877M897 130.5H898M907 130.5H908M910 130.5H911M912 130.5H913M919 130.5H920M923 130.5H924M927 130.5H928M929 130.5H930M763 160.5H764M767 160.5H769M770 160.5H771M772 160.5H773M776 160.5H777M913 160.5H915M944 160.5H945M946 160.5H948M951 160.5H952M953 160.5H954M982 160.5H983M759 161.5H760M762 161.5H763M767 161.5H769M770 161.5H772M944 161.5H945M946 161.5H948M951 161.5H952M953 161.5H954M981 161.5H982M785 134.5H786M788 134.5H789M833 134.5H834M835 134.5H836M844 134.5H845M860 134.5H861M862 134.5H863M867 134.5H868M875 134.5H876M897 134.5H898M907 134.5H908M909 134.5H910M912 134.5H913M917 134.5H918M924 134.5H925M927 134.5H928M929 134.5H930M748 166.5H749M752 166.5H753M755 166.5H756M759 166.5H760M944 166.5H946M948 166.5H949M950 166.5H951M954 166.5H955M981 166.5H982M792 107.5H793M794 107.5H795M807 107.5H808M809 107.5H810M815 107.5H816M820 107.5H822M825 107.5H826M830 107.5H831M832 107.5H833M836 107.5H837M839 107.5H840M846 107.5H847M850 107.5H851M853 107.5H854M858 107.5H859M869 107.5H870M884 107.5H885M893 107.5H894M899 107.5H900M901 107.5H902M791 118.5H792M795 118.5H796M798 118.5H800M801 118.5H802M803 118.5H804M806 118.5H807M812 118.5H814M818 118.5H819M822 118.5H823M824 118.5H825M826 118.5H827M829 118.5H830M833 118.5H834M835 118.5H836M842 118.5H843M845 118.5H846M850 118.5H851M853 118.5H854M859 118.5H860M868 118.5H869M871 118.5H872M874 118.5H875M882 118.5H883M886 118.5H887M888 118.5H889M891 118.5H893M895 118.5H896M898 118.5H899M902 118.5H903M920 118.5H921M922 118.5H923M791 115.5H792M795 115.5H796M801 115.5H803M806 115.5H807M811 115.5H812M814 115.5H815M817 115.5H818M819 115.5H820M822 115.5H823M824 115.5H825M826 115.5H827M829 115.5H830M832 115.5H833M835 115.5H836M837 115.5H838M842 115.5H843M845 115.5H846M850 115.5H851M853 115.5H854M859 115.5H860M868 115.5H869M870 115.5H871M882 115.5H883M886 115.5H887M889 115.5H891M893 115.5H894M895 115.5H896M898 115.5H899M902 115.5H903M920 115.5H922M785 142.5H787M788 142.5H789M834 142.5H835M908 142.5H909M912 142.5H913M915 142.5H916M925 142.5H927M931 142.5H932M856 87.5H857M900 87.5H901M710 192.5H711M713 192.5H714M718 192.5H719M791 119.5H792M795 119.5H796M797 119.5H798M799 119.5H801M804 119.5H805M806 119.5H807M813 119.5H814M823 119.5H824M827 119.5H828M829 119.5H830M833 119.5H834M835 119.5H836M843 119.5H844M845 119.5H846M851 119.5H853M859 119.5H860M868 119.5H869M871 119.5H875M878 119.5H879M882 119.5H883M887 119.5H889M891 119.5H893M896 119.5H897M898 119.5H899M902 119.5H903M911 119.5H912M920 119.5H921M922 119.5H923M609 176.5H610M612 176.5H613M639 176.5H640M651 176.5H653M726 176.5H727M729 176.5H730M734 176.5H735M736 176.5H737M740 176.5H741M743 176.5H744M746 176.5H747M954 176.5H955M956 176.5H957M961 176.5H962M963 176.5H965M980 176.5H981M831 92.5H832M849 92.5H850M854 92.5H855M857 92.5H858M900 92.5H901M807 99.5H809M830 99.5H832M846 99.5H847M849 99.5H850M854 99.5H855M857 99.5H858M899 99.5H900M901 99.5H902M793 101.5H794M807 101.5H809M830 101.5H831M832 101.5H833M846 101.5H847M850 101.5H851M853 101.5H854M858 101.5H859M899 101.5H900M901 101.5H902M602 187.5H607M615 187.5H616M617 187.5H618M644 187.5H645M646 187.5H647M672 187.5H673M676 187.5H677M678 187.5H679M684 187.5H685M692 187.5H696M701 187.5H702M703 187.5H704M705 187.5H706M715 187.5H717M719 187.5H720M725 187.5H726M793 102.5H794M807 102.5H809M830 102.5H831M832 102.5H833M846 102.5H847M850 102.5H851M853 102.5H854M858 102.5H859M899 102.5H900M901 102.5H902M728 169.5H729M737 169.5H738M739 169.5H740M747 169.5H748M749 169.5H750M751 169.5H752M753 169.5H755M756 169.5H757M758 169.5H759M945 169.5H946M948 169.5H949M950 169.5H951M954 169.5H955M981 169.5H982M615 189.5H617M645 189.5H646M677 189.5H678M702 189.5H703M706 189.5H707M714 189.5H715M717 189.5H719M831 93.5H832M849 93.5H850M854 93.5H855M857 93.5H858M900 93.5H901M781 149.5H782M783 149.5H785M786 149.5H788M912 149.5H913M915 149.5H916M932 149.5H933M937 149.5H938M952 149.5H953M983 149.5H984M989 149.5H990M993 149.5H994M995 149.5H997M1000 149.5H1001M781 150.5H782M783 150.5H785M786 150.5H788M913 150.5H914M915 150.5H916M933 150.5H934M937 150.5H938M952 150.5H953M983 150.5H984M990 150.5H991M993 150.5H994M995 150.5H996M1000 150.5H1001M793 104.5H794M807 104.5H808M809 104.5H810M821 104.5H822M825 104.5H826M830 104.5H831M832 104.5H833M846 104.5H847M850 104.5H851M853 104.5H854M858 104.5H859M869 104.5H870M899 104.5H900M901 104.5H902M785 143.5H787M788 143.5H789M834 143.5H835M908 143.5H909M912 143.5H913M915 143.5H916M931 143.5H932M988 143.5H989M727 172.5H729M737 172.5H738M739 172.5H740M747 172.5H748M749 172.5H750M751 172.5H752M757 172.5H759M945 172.5H946M949 172.5H950M954 172.5H955M980 172.5H981M782 146.5H783M784 146.5H785M786 146.5H787M788 146.5H789M912 146.5H913M915 146.5H916M932 146.5H933M983 146.5H984M986 146.5H988M989 146.5H990M994 146.5H995M998 146.5H1000M785 137.5H786M788 137.5H789M834 137.5H835M907 137.5H908M909 137.5H910M912 137.5H913M916 137.5H917M924 137.5H925M927 137.5H928M930 137.5H931M759 162.5H760M762 162.5H763M767 162.5H768M771 162.5H772M944 162.5H945M946 162.5H948M950 162.5H951M953 162.5H954M981 162.5H982M773 152.5H774M780 152.5H781M784 152.5H785M787 152.5H788M913 152.5H914M915 152.5H916M933 152.5H934M936 152.5H937M938 152.5H939M943 152.5H944M952 152.5H953M982 152.5H983M990 152.5H991M992 152.5H993M1000 152.5H1001M855 89.5H857M900 89.5H901M792 111.5H793M794 111.5H795M806 111.5H807M810 111.5H811M814 111.5H815M816 111.5H817M820 111.5H821M822 111.5H823M824 111.5H825M826 111.5H827M830 111.5H831M832 111.5H833M836 111.5H839M841 111.5H842M845 111.5H846M850 111.5H851M853 111.5H854M858 111.5H859M869 111.5H871M883 111.5H884M885 111.5H886M893 111.5H895M898 111.5H899M902 111.5H903M807 97.5H808M831 97.5H832M847 97.5H848M849 97.5H850M854 97.5H855M857 97.5H858M899 97.5H900M901 97.5H902M792 108.5H793M794 108.5H795M807 108.5H808M809 108.5H810M815 108.5H816M820 108.5H822M825 108.5H826M830 108.5H831M832 108.5H833M836 108.5H837M839 108.5H841M845 108.5H846M850 108.5H851M853 108.5H854M858 108.5H859M869 108.5H871M884 108.5H885M893 108.5H894M899 108.5H900M902 108.5H903M765 156.5H767M772 156.5H773M775 156.5H776M778 156.5H779M787 156.5H788M913 156.5H915M934 156.5H935M939 156.5H941M943 156.5H944M946 156.5H947M951 156.5H952M953 156.5H954M982 156.5H983M991 156.5H992M1001 156.5H1002M856 86.5H857M900 86.5H901M748 165.5H749M752 165.5H753M755 165.5H756M759 165.5H761M944 165.5H946M948 165.5H949M950 165.5H951M953 165.5H954M981 165.5H982M854 91.5H855M857 91.5H858M900 91.5H901M609 179.5H610M613 179.5H614M620 179.5H621M630 179.5H631M634 179.5H635M637 179.5H638M640 179.5H641M650 179.5H651M654 179.5H655M726 179.5H727M955 179.5H956M965 179.5H966M978 179.5H979M807 98.5H809M831 98.5H832M846 98.5H847M849 98.5H850M854 98.5H855M857 98.5H858M899 98.5H900M901 98.5H902M764 159.5H765M767 159.5H768M769 159.5H770M772 159.5H773M776 159.5H778M913 159.5H915M944 159.5H945M946 159.5H948M951 159.5H952M953 159.5H954M982 159.5H983M785 138.5H786M788 138.5H789M834 138.5H835M907 138.5H908M909 138.5H910M912 138.5H913M916 138.5H917M924 138.5H925M926 138.5H927M930 138.5H931M727 174.5H728M729 174.5H730M736 174.5H737M740 174.5H741M744 174.5H746M747 174.5H748M750 174.5H751M758 174.5H759M945 174.5H946M949 174.5H950M954 174.5H955M956 174.5H957M960 174.5H961M980 174.5H981M711 193.5H714M718 193.5H719M807 100.5H809M830 100.5H832M846 100.5H847M849 100.5H850M854 100.5H855M857 100.5H858M899 100.5H900M901 100.5H902M710 191.5H711M714 191.5H715M717 191.5H719" stroke="#0000ff" fill="none"/>
<path d="M609 184.5H610M612 184.5H613M619 184.5H621M630 184.5H634M637 184.5H638M640 184.5H641M654 184.5H655M657 184.5H658M726 184.5H727M728 184.5H736M738 184.5H739M743 184.5H744M746 184.5H747M749 184.5H750M752 184.5H753M754 184.5H755M757 184.5H758M949 184.5H951M954 184.5H955M958 184.5H959M964 184.5H965M981 184.5H982M582 186.5H583M608 186.5H609M612 186.5H613M619 186.5H620M621 186.5H622M629 186.5H630M634 186.5H635M636 186.5H637M641 186.5H642M650 186.5H653M659 186.5H661M726 186.5H727M740 186.5H741M745 186.5H746M753 186.5H754M949 186.5H950M954 186.5H955M957 186.5H958M965 186.5H966M981 186.5H982M790 152.5H791M799 152.5H800M801 152.5H802M804 152.5H806M809 152.5H810M824 152.5H825M829 152.5H830M832 152.5H833M834 152.5H835M838 152.5H839M846 152.5H847M858 152.5H859M865 152.5H866M875 152.5H876M879 152.5H880M892 152.5H894M896 152.5H897M898 152.5H899M902 152.5H903M921 152.5H922M790 154.5H791M799 154.5H800M801 154.5H802M805 154.5H806M824 154.5H825M829 154.5H830M832 154.5H833M834 154.5H835M839 154.5H840M842 154.5H843M846 154.5H847M858 154.5H859M864 154.5H865M875 154.5H876M878 154.5H879M892 154.5H893M897 154.5H899M903 154.5H904M910 154.5H911M921 154.5H923M792 147.5H793M796 147.5H797M798 147.5H799M806 147.5H807M808 147.5H809M810 147.5H811M813 147.5H814M819 147.5H820M823 147.5H824M830 147.5H831M836 147.5H837M847 147.5H848M849 147.5H850M852 147.5H853M857 147.5H858M867 147.5H868M870 147.5H871M872 147.5H873M874 147.5H875M881 147.5H882M891 147.5H892M894 147.5H895M896 147.5H897M899 147.5H900M901 147.5H902M579 189.5H581M583 189.5H584M586 189.5H587M589 189.5H590M594 189.5H595M596 189.5H598M606 189.5H607M613 189.5H614M618 189.5H619M627 189.5H629M643 189.5H644M648 189.5H649M667 189.5H668M679 189.5H681M683 189.5H684M688 189.5H690M691 189.5H692M695 189.5H696M700 189.5H701M725 189.5H726M955 189.5H956M967 189.5H968M976 189.5H979M980 189.5H981M587 192.5H588M599 192.5H600M603 192.5H604M614 192.5H615M617 192.5H618M645 192.5H646M671 192.5H676M685 192.5H686M693 192.5H694M702 192.5H704M718 192.5H719M724 192.5H726M779 173.5H780M781 173.5H782M783 173.5H784M786 173.5H787M788 173.5H789M912 173.5H913M916 173.5H917M931 173.5H934M935 173.5H936M939 173.5H940M982 173.5H983M985 173.5H986M990 173.5H992M1000 173.5H1001M789 156.5H790M800 156.5H801M826 156.5H827M828 156.5H829M833 156.5H834M840 156.5H842M843 156.5H844M846 156.5H847M859 156.5H860M863 156.5H864M876 156.5H878M897 156.5H898M903 156.5H904M909 156.5H911M920 156.5H921M922 156.5H923M581 188.5H582M583 188.5H587M589 188.5H590M593 188.5H594M607 188.5H608M613 188.5H614M618 188.5H619M627 188.5H628M629 188.5H630M642 188.5H643M649 188.5H650M666 188.5H667M681 188.5H683M690 188.5H691M696 188.5H700M725 188.5H726M955 188.5H957M966 188.5H967M976 188.5H977M980 188.5H981M614 193.5H618M704 193.5H718M725 193.5H726M789 165.5H790M911 165.5H912M918 165.5H919M929 165.5H930M794 143.5H795M807 143.5H809M811 143.5H813M820 143.5H821M822 143.5H823M848 143.5H849M854 143.5H855M856 143.5H857M869 143.5H870M882 143.5H885M895 143.5H896M900 143.5H901M581 187.5H582M583 187.5H584M586 187.5H587M590 187.5H593M607 187.5H608M612 187.5H613M619 187.5H620M621 187.5H627M629 187.5H630M635 187.5H636M642 187.5H643M649 187.5H650M661 187.5H666M726 187.5H727M949 187.5H950M955 187.5H957M966 187.5H967M980 187.5H981M791 149.5H792M799 149.5H800M802 149.5H804M806 149.5H807M809 149.5H811M813 149.5H814M818 149.5H819M823 149.5H824M830 149.5H832M835 149.5H836M837 149.5H838M847 149.5H848M850 149.5H852M857 149.5H858M866 149.5H867M871 149.5H872M874 149.5H875M881 149.5H882M891 149.5H892M893 149.5H894M896 149.5H897M899 149.5H900M901 149.5H902M789 161.5H790M911 161.5H912M919 161.5H920M924 161.5H925M926 161.5H927M928 161.5H929M761 178.5H762M768 178.5H769M770 178.5H771M777 178.5H778M781 178.5H782M783 178.5H784M912 178.5H913M944 178.5H945M946 178.5H947M948 178.5H949M951 178.5H952M953 178.5H954M982 178.5H983M763 174.5H767M772 174.5H776M779 174.5H780M781 174.5H782M783 174.5H784M787 174.5H788M912 174.5H913M915 174.5H916M931 174.5H933M934 174.5H936M940 174.5H941M982 174.5H983M985 174.5H986M991 174.5H992M1001 174.5H1002M780 170.5H781M784 170.5H786M788 170.5H789M911 170.5H912M917 170.5H918M930 170.5H931M937 170.5H938M983 170.5H984M986 170.5H987M988 170.5H989M993 170.5H994M999 170.5H1000M609 183.5H610M611 183.5H612M620 183.5H621M638 183.5H639M640 183.5H641M654 183.5H655M656 183.5H657M726 183.5H728M736 183.5H738M746 183.5H747M749 183.5H750M752 183.5H753M754 183.5H755M757 183.5H759M945 183.5H946M948 183.5H949M950 183.5H951M954 183.5H955M958 183.5H965M981 183.5H982M789 166.5H790M911 166.5H912M918 166.5H919M929 166.5H930M998 166.5H999M610 182.5H612M620 182.5H621M639 182.5H640M655 182.5H656M726 182.5H727M736 182.5H737M747 182.5H748M749 182.5H751M752 182.5H753M754 182.5H755M756 182.5H757M758 182.5H759M945 182.5H946M948 182.5H949M950 182.5H951M954 182.5H955M981 182.5H982M790 153.5H791M799 153.5H800M801 153.5H802M805 153.5H806M824 153.5H825M829 153.5H830M832 153.5H833M834 153.5H835M839 153.5H840M846 153.5H847M858 153.5H859M865 153.5H866M875 153.5H876M879 153.5H880M892 153.5H893M896 153.5H897M898 153.5H899M902 153.5H903M921 153.5H922M587 191.5H589M598 191.5H599M600 191.5H603M604 191.5H606M613 191.5H614M618 191.5H619M644 191.5H645M646 191.5H648M669 191.5H671M676 191.5H677M684 191.5H685M686 191.5H687M692 191.5H693M694 191.5H695M701 191.5H702M718 191.5H719M723 191.5H724M725 191.5H726M789 163.5H790M911 163.5H912M918 163.5H919M925 163.5H926M928 163.5H929M789 155.5H790M800 155.5H801M825 155.5H826M829 155.5H830M832 155.5H833M834 155.5H835M839 155.5H840M841 155.5H842M843 155.5H844M846 155.5H847M859 155.5H860M864 155.5H865M876 155.5H878M897 155.5H898M903 155.5H904M910 155.5H911M920 155.5H921M922 155.5H923M577 190.5H579M587 190.5H589M595 190.5H596M598 190.5H599M600 190.5H601M606 190.5H607M613 190.5H614M618 190.5H619M628 190.5H629M644 190.5H645M648 190.5H649M668 190.5H669M677 190.5H679M684 190.5H685M687 190.5H688M692 190.5H693M695 190.5H696M701 190.5H702M719 190.5H723M725 190.5H726M955 190.5H956M967 190.5H976M979 190.5H981M794 144.5H796M806 144.5H807M808 144.5H809M810 144.5H811M812 144.5H813M819 144.5H820M822 144.5H823M848 144.5H849M853 144.5H854M856 144.5H857M869 144.5H870M882 144.5H883M885 144.5H889M895 144.5H896M900 144.5H901M784 169.5H785M789 169.5H790M911 169.5H912M917 169.5H918M930 169.5H931M983 169.5H984M986 169.5H987M988 169.5H989M993 169.5H994M999 169.5H1000M793 145.5H794M795 145.5H796M806 145.5H807M808 145.5H809M810 145.5H811M812 145.5H813M819 145.5H820M822 145.5H823M847 145.5H848M849 145.5H850M853 145.5H854M856 145.5H857M868 145.5H869M870 145.5H871M873 145.5H874M882 145.5H883M889 145.5H892M894 145.5H896M900 145.5H901M791 150.5H792M799 150.5H800M802 150.5H804M806 150.5H807M809 150.5H810M814 150.5H815M816 150.5H819M823 150.5H824M829 150.5H830M831 150.5H832M835 150.5H836M837 150.5H838M847 150.5H848M850 150.5H851M857 150.5H858M866 150.5H867M871 150.5H872M874 150.5H875M880 150.5H881M892 150.5H894M896 150.5H897M899 150.5H900M902 150.5H903M793 146.5H794M796 146.5H799M806 146.5H807M808 146.5H809M810 146.5H811M813 146.5H814M819 146.5H820M823 146.5H824M830 146.5H831M836 146.5H837M847 146.5H848M849 146.5H850M852 146.5H853M856 146.5H857M868 146.5H869M870 146.5H871M873 146.5H874M881 146.5H882M891 146.5H892M894 146.5H895M896 146.5H897M899 146.5H900M901 146.5H902M761 177.5H762M767 177.5H768M771 177.5H772M777 177.5H778M781 177.5H782M783 177.5H784M912 177.5H914M944 177.5H945M947 177.5H948M952 177.5H954M982 177.5H983M792 148.5H793M798 148.5H799M802 148.5H803M806 148.5H807M808 148.5H809M810 148.5H811M813 148.5H814M818 148.5H819M823 148.5H824M830 148.5H832M835 148.5H836M837 148.5H838M847 148.5H848M849 148.5H850M851 148.5H852M857 148.5H858M867 148.5H868M870 148.5H871M872 148.5H873M874 148.5H875M881 148.5H882M891 148.5H892M894 148.5H895M896 148.5H897M899 148.5H900M901 148.5H902M780 171.5H781M784 171.5H786M788 171.5H789M911 171.5H912M916 171.5H917M930 171.5H931M936 171.5H937M938 171.5H939M983 171.5H985M986 171.5H987M989 171.5H990M992 171.5H993M1000 171.5H1001M789 160.5H790M911 160.5H912M919 160.5H920M924 160.5H925M926 160.5H928M582 185.5H583M608 185.5H609M612 185.5H613M619 185.5H620M621 185.5H622M630 185.5H631M634 185.5H635M637 185.5H638M641 185.5H642M650 185.5H651M653 185.5H654M658 185.5H659M726 185.5H727M739 185.5H740M741 185.5H743M744 185.5H746M753 185.5H754M949 185.5H951M954 185.5H955M957 185.5H958M965 185.5H966M981 185.5H982M789 157.5H790M800 157.5H801M826 157.5H827M828 157.5H829M833 157.5H834M840 157.5H841M844 157.5H846M859 157.5H864M876 157.5H877M897 157.5H898M904 157.5H906M909 157.5H911M920 157.5H921M923 157.5H924M610 181.5H611M747 181.5H749M750 181.5H751M752 181.5H753M754 181.5H755M756 181.5H757M759 181.5H760M769 181.5H770M782 181.5H783M945 181.5H947M948 181.5H949M951 181.5H952M954 181.5H955M981 181.5H982M748 180.5H749M751 180.5H752M755 180.5H756M759 180.5H760M769 180.5H770M782 180.5H783M945 180.5H947M948 180.5H949M951 180.5H952M954 180.5H955M981 180.5H982M790 151.5H791M799 151.5H800M801 151.5H802M804 151.5H806M809 151.5H810M814 151.5H816M823 151.5H824M829 151.5H830M831 151.5H832M835 151.5H836M838 151.5H839M846 151.5H847M850 151.5H851M858 151.5H859M866 151.5H867M875 151.5H876M880 151.5H881M892 151.5H894M896 151.5H897M898 151.5H899M902 151.5H903M779 172.5H781M784 172.5H785M786 172.5H787M788 172.5H789M912 172.5H913M916 172.5H917M930 172.5H931M933 172.5H934M936 172.5H937M939 172.5H940M983 172.5H985M986 172.5H987M989 172.5H990M992 172.5H993M1000 172.5H1001M789 164.5H790M911 164.5H912M918 164.5H919M928 164.5H929M807 142.5H808M811 142.5H813M820 142.5H821M822 142.5H823M848 142.5H849M854 142.5H856M895 142.5H896M789 167.5H790M911 167.5H912M917 167.5H918M929 167.5H930M987 167.5H988M996 167.5H999M762 175.5H763M766 175.5H767M772 175.5H773M776 175.5H777M778 175.5H779M781 175.5H782M783 175.5H784M787 175.5H788M912 175.5H913M914 175.5H915M931 175.5H932M934 175.5H935M941 175.5H945M947 175.5H948M952 175.5H954M982 175.5H983M1001 175.5H1002M789 159.5H790M828 159.5H829M845 159.5H846M908 159.5H909M910 159.5H911M919 159.5H920M924 159.5H925M927 159.5H928M789 168.5H790M911 168.5H912M917 168.5H918M929 168.5H930M987 168.5H988M994 168.5H996M999 168.5H1000M748 179.5H749M751 179.5H752M755 179.5H756M760 179.5H761M768 179.5H769M770 179.5H771M782 179.5H783M945 179.5H947M948 179.5H949M951 179.5H952M954 179.5H955M982 179.5H983M807 141.5H808M811 141.5H812M820 141.5H821M822 141.5H823M855 141.5H856M807 140.5H808M811 140.5H812M820 140.5H821M822 140.5H823M855 140.5H856M789 158.5H790M827 158.5H829M844 158.5H846M906 158.5H909M910 158.5H911M920 158.5H921M923 158.5H924M927 158.5H928M789 162.5H790M911 162.5H912M919 162.5H920M925 162.5H926M928 162.5H929M762 176.5H763M767 176.5H768M771 176.5H772M776 176.5H777M778 176.5H779M781 176.5H782M783 176.5H784M912 176.5H913M914 176.5H915M944 176.5H945M947 176.5H948M952 176.5H954M982 176.5H983M821 139.5H822M821 138.5H822M821 137.5H822" stroke="#ff0000" fill="none"/>
<path d="M275 354.5H276M286 354.5H287M308 354.5H309M311 354.5H316M318 354.5H323M324 354.5H332M336 354.5H337M339 354.5H357M358 354.5H371M379 354.5H380M206 341.5H207M213 341.5H221M222 341.5H224M454 341.5H455M471 341.5H484M139 322.5H145M171 322.5H182M187 322.5H190M138 324.5H139M183 324.5H187M190 324.5H193M233 343.5H237M241 343.5H242M445 343.5H451M263 349.5H264M265 349.5H267M406 349.5H419M153 319.5H157M158 319.5H160M162 319.5H164M165 319.5H166M242 344.5H249M251 344.5H253M443 344.5H445M284 356.5H285M293 356.5H295M296 356.5H299M301 356.5H302M305 356.5H306M274 353.5H275M371 353.5H379M380 353.5H389M391 353.5H392M276 355.5H284M285 355.5H286M287 355.5H293M295 355.5H296M299 355.5H301M302 355.5H305M306 355.5H308M309 355.5H311M316 355.5H318M323 355.5H324M332 355.5H336M337 355.5H339M357 355.5H358M269 351.5H273M392 351.5H394M273 352.5H274M389 352.5H391M392 352.5H393M66 336.5H67M200 336.5H201M466 336.5H469M145 321.5H146M150 321.5H152M166 321.5H171M65 337.5H66M200 337.5H201M461 337.5H466M469 337.5H470M264 350.5H265M267 350.5H269M394 350.5H406M69 334.5H75M78 334.5H79M82 334.5H83M199 334.5H200M146 320.5H150M152 320.5H153M157 320.5H158M165 320.5H166M87 332.5H88M89 332.5H91M96 332.5H97M103 332.5H109M111 332.5H112M197 332.5H199M207 342.5H213M221 342.5H222M224 342.5H233M237 342.5H241M451 342.5H454M249 345.5H251M253 345.5H255M432 345.5H443M112 330.5H113M116 330.5H120M195 330.5H196M256 347.5H257M260 347.5H262M424 347.5H432M257 348.5H260M262 348.5H263M419 348.5H424M125 326.5H126M127 326.5H128M134 326.5H135M136 326.5H138M193 326.5H194M74 333.5H78M82 333.5H87M88 333.5H89M91 333.5H96M97 333.5H103M109 333.5H111M199 333.5H200M255 346.5H256M432 346.5H433M200 339.5H204M456 339.5H458M470 339.5H471M484 339.5H488M139 323.5H140M182 323.5H183M187 323.5H188M190 323.5H191M200 338.5H201M458 338.5H461M469 338.5H470M204 340.5H206M455 340.5H456M470 340.5H471M484 340.5H485M67 335.5H69M78 335.5H82M200 335.5H201M160 318.5H162M164 318.5H165M126 325.5H127M135 325.5H136M138 325.5H139M193 325.5H194M122 327.5H125M128 327.5H134M194 327.5H195M113 328.5H116M121 328.5H122M194 328.5H195M112 329.5H113M116 329.5H117M120 329.5H121M195 329.5H196M111 331.5H112M196 331.5H197" stroke="#ff0000" fill="none"/>
<path d="M251 479.5H252M319 479.5H320M321 479.5H322M323 479.5H325M338 479.5H339M343 479.5H344M346 479.5H347M198 528.5H199M370 528.5H371M375 528.5H376M391 528.5H392M64 548.5H176M416 548.5H488M245 483.5H247M319 483.5H320M321 483.5H322M323 483.5H324M339 483.5H341M348 483.5H349M194 533.5H195M370 533.5H371M372 533.5H374M394 533.5H395M181 546.5H183M402 546.5H411M222 504.5H223M320 504.5H322M367 504.5H369M252 478.5H254M319 478.5H320M321 478.5H322M323 478.5H325M338 478.5H339M344 478.5H346M214 512.5H215M369 512.5H370M376 512.5H377M380 512.5H381M240 487.5H241M319 487.5H320M321 487.5H322M339 487.5H340M356 487.5H357M192 534.5H194M370 534.5H372M395 534.5H396M203 522.5H204M370 522.5H371M375 522.5H376M388 522.5H389M232 494.5H233M319 494.5H320M321 494.5H322M360 494.5H361M248 481.5H249M319 481.5H320M321 481.5H322M323 481.5H324M338 481.5H339M341 481.5H342M347 481.5H348M201 525.5H202M370 525.5H371M375 525.5H376M390 525.5H391M237 490.5H238M319 490.5H320M321 490.5H322M358 490.5H359M223 503.5H224M320 503.5H322M366 503.5H369M218 508.5H219M320 508.5H321M369 508.5H370M376 508.5H377M378 508.5H379M238 489.5H239M319 489.5H320M321 489.5H322M357 489.5H358M276 466.5H278M280 466.5H282M284 466.5H287M308 466.5H309M311 466.5H313M228 498.5H229M319 498.5H320M321 498.5H322M365 498.5H366M235 491.5H237M319 491.5H320M321 491.5H322M359 491.5H360M243 485.5H244M319 485.5H320M321 485.5H322M339 485.5H341M349 485.5H352M353 485.5H355M261 473.5H263M319 473.5H320M321 473.5H323M325 473.5H326M329 473.5H331M175 547.5H181M411 547.5H416M219 507.5H220M320 507.5H321M369 507.5H370M376 507.5H378M247 482.5H248M319 482.5H320M321 482.5H322M323 482.5H324M339 482.5H340M341 482.5H342M347 482.5H348M278 465.5H280M282 465.5H284M287 465.5H289M302 465.5H308M309 465.5H311M209 516.5H210M369 516.5H370M376 516.5H377M382 516.5H383M273 468.5H275M315 468.5H318M322 468.5H323M229 497.5H230M319 497.5H320M321 497.5H322M365 497.5H366M220 506.5H221M320 506.5H321M367 506.5H368M369 506.5H370M376 506.5H377M289 464.5H302M186 540.5H187M397 540.5H398M189 536.5H191M396 536.5H397M200 526.5H201M370 526.5H371M375 526.5H376M390 526.5H391M244 484.5H245M319 484.5H320M321 484.5H322M339 484.5H341M348 484.5H349M352 484.5H353M233 493.5H234M319 493.5H320M321 493.5H322M360 493.5H361M231 495.5H232M319 495.5H320M321 495.5H322M361 495.5H364M215 511.5H216M320 511.5H321M369 511.5H370M376 511.5H377M379 511.5H380M263 472.5H266M319 472.5H320M321 472.5H323M325 472.5H326M328 472.5H329M202 524.5H203M370 524.5H371M375 524.5H376M389 524.5H390M269 470.5H271M319 470.5H320M321 470.5H323M239 488.5H240M319 488.5H320M321 488.5H322M356 488.5H357M213 513.5H214M369 513.5H370M376 513.5H377M380 513.5H381M183 545.5H184M401 545.5H402M227 499.5H228M319 499.5H320M321 499.5H322M365 499.5H366M367 499.5H368M197 530.5H198M370 530.5H371M375 530.5H376M392 530.5H393M259 474.5H261M319 474.5H320M321 474.5H323M325 474.5H326M331 474.5H332M224 502.5H225M320 502.5H322M366 502.5H369M234 492.5H235M319 492.5H320M321 492.5H322M359 492.5H360M254 477.5H255M319 477.5H320M321 477.5H322M323 477.5H325M336 477.5H339M345 477.5H346M208 517.5H209M369 517.5H370M376 517.5H377M382 517.5H386M255 476.5H257M319 476.5H320M321 476.5H322M323 476.5H325M333 476.5H336M202 523.5H203M370 523.5H371M375 523.5H376M389 523.5H390M195 532.5H196M370 532.5H371M374 532.5H376M393 532.5H394M271 469.5H273M318 469.5H320M322 469.5H323M221 505.5H222M320 505.5H322M367 505.5H368M369 505.5H370M249 480.5H251M319 480.5H320M321 480.5H322M323 480.5H325M338 480.5H339M342 480.5H343M346 480.5H347M207 518.5H208M369 518.5H370M376 518.5H377M386 518.5H388M199 527.5H200M370 527.5H371M375 527.5H376M390 527.5H391M191 535.5H192M370 535.5H371M395 535.5H396M257 475.5H259M319 475.5H320M321 475.5H323M324 475.5H325M332 475.5H333M212 514.5H213M369 514.5H370M376 514.5H377M381 514.5H382M226 500.5H227M319 500.5H320M321 500.5H322M366 500.5H368M217 509.5H218M320 509.5H321M369 509.5H370M376 509.5H377M378 509.5H379M225 501.5H226M320 501.5H322M366 501.5H369M216 510.5H217M320 510.5H321M369 510.5H370M376 510.5H377M379 510.5H380M266 471.5H269M319 471.5H320M321 471.5H323M325 471.5H328M183 544.5H184M400 544.5H401M230 496.5H231M319 496.5H320M321 496.5H322M364 496.5H365M241 486.5H243M319 486.5H320M321 486.5H322M339 486.5H340M349 486.5H350M355 486.5H356M210 515.5H212M369 515.5H370M376 515.5H377M381 515.5H382M204 521.5H205M370 521.5H371M375 521.5H376M388 521.5H389M205 520.5H206M369 520.5H370M375 520.5H376M388 520.5H389M206 519.5H207M369 519.5H370M376 519.5H377M387 519.5H388M185 542.5H186M398 542.5H399M184 543.5H185M399 543.5H400M275 467.5H276M313 467.5H315M196 531.5H197M370 531.5H371M375 531.5H376M392 531.5H393M197 529.5H198M370 529.5H371M375 529.5H376M391 529.5H392M185 541.5H186M397 541.5H398M188 537.5H189M396 537.5H397M187 539.5H188M397 539.5H398M187 538.5H188M396 538.5H397" stroke="#ff0000" fill="none"/>
<path d="M861 538.5H866M945 538.5H947M799 493.5H800M853 530.5H855M955 530.5H959M605 445.5H606M609 445.5H610M613 445.5H614M616 445.5H619M852 528.5H853M959 528.5H963M879 544.5H880M902 544.5H906M909 544.5H911M917 544.5H921M927 544.5H932M846 524.5H847M980 524.5H983M984 524.5H986M990 524.5H994M997 524.5H999M868 543.5H870M878 543.5H879M880 543.5H881M888 543.5H890M902 543.5H903M911 543.5H912M913 543.5H915M916 543.5H917M921 543.5H922M927 543.5H928M932 543.5H933M833 514.5H837M858 536.5H859M948 536.5H952M625 452.5H626M637 452.5H639M650 452.5H651M652 452.5H653M669 452.5H670M698 452.5H699M708 452.5H709M627 455.5H631M633 455.5H634M671 455.5H672M674 455.5H675M686 455.5H690M713 455.5H722M723 455.5H727M729 455.5H733M734 455.5H741M817 510.5H819M824 510.5H830M762 470.5H770M867 541.5H868M873 541.5H875M876 541.5H877M885 541.5H886M887 541.5H888M897 541.5H898M901 541.5H902M941 541.5H943M620 449.5H621M644 449.5H648M660 449.5H668M848 526.5H852M964 526.5H965M967 526.5H972M974 526.5H980M986 526.5H990M1000 526.5H1003M867 542.5H868M870 542.5H873M877 542.5H878M881 542.5H885M887 542.5H888M890 542.5H897M901 542.5H902M912 542.5H913M915 542.5H916M921 542.5H927M933 542.5H941M809 501.5H810M621 450.5H623M643 450.5H644M648 450.5H649M660 450.5H661M668 450.5H669M809 502.5H812M799 492.5H800M791 488.5H792M782 484.5H784M623 451.5H625M639 451.5H643M649 451.5H650M652 451.5H660M668 451.5H669M698 451.5H708M626 454.5H627M634 454.5H636M670 454.5H671M672 454.5H674M690 454.5H691M712 454.5H713M722 454.5H723M727 454.5H729M733 454.5H734M784 485.5H787M590 439.5H594M631 457.5H632M677 457.5H682M685 457.5H686M741 457.5H742M787 486.5H790M606 447.5H607M611 447.5H612M619 447.5H620M761 469.5H762M620 448.5H621M794 491.5H796M798 491.5H799M851 527.5H852M963 527.5H964M965 527.5H967M972 527.5H974M816 508.5H817M819 508.5H823M626 453.5H627M636 453.5H637M651 453.5H652M670 453.5H671M691 453.5H698M708 453.5H712M853 531.5H854M855 531.5H856M953 531.5H955M594 440.5H595M772 474.5H775M605 446.5H606M607 446.5H609M610 446.5H611M612 446.5H613M619 446.5H620M846 523.5H847M994 523.5H995M996 523.5H997M775 475.5H776M857 535.5H858M951 535.5H952M596 442.5H597M598 442.5H599M602 442.5H603M590 438.5H591M745 461.5H752M808 499.5H809M631 456.5H633M675 456.5H677M685 456.5H686M741 456.5H742M771 473.5H772M782 482.5H783M906 545.5H909M586 436.5H588M838 517.5H839M577 433.5H584M816 507.5H817M839 518.5H840M776 476.5H781M604 444.5H605M614 444.5H616M847 525.5H848M980 525.5H981M983 525.5H984M986 525.5H987M990 525.5H991M999 525.5H1000M588 437.5H590M856 534.5H857M952 534.5H953M866 539.5H867M944 539.5H945M800 494.5H802M760 467.5H761M585 435.5H586M812 504.5H816M771 472.5H772M866 540.5H867M875 540.5H876M886 540.5H887M898 540.5H901M943 540.5H944M804 496.5H806M815 505.5H816M754 465.5H760M682 458.5H683M684 458.5H685M742 458.5H743M838 516.5H839M816 506.5H817M595 441.5H596M599 441.5H602M837 515.5H838M781 480.5H782M841 521.5H842M844 521.5H845M855 532.5H856M952 532.5H953M816 509.5H817M818 509.5H819M823 509.5H824M856 533.5H857M952 533.5H953M792 489.5H793M752 462.5H753M840 520.5H841M842 520.5H844M781 479.5H782M817 511.5H818M830 511.5H831M793 490.5H794M796 490.5H798M859 537.5H861M947 537.5H948M840 519.5H841M743 460.5H745M761 468.5H762M753 464.5H754M817 512.5H818M831 512.5H832M780 477.5H781M683 459.5H684M742 459.5H743M845 522.5H846M995 522.5H996M753 463.5H754M832 513.5H833M806 497.5H807M760 466.5H761M812 503.5H813M597 443.5H598M603 443.5H604M808 500.5H809M790 487.5H791M782 483.5H783M781 478.5H782M852 529.5H853M959 529.5H960M807 498.5H808M584 434.5H585M802 495.5H804M781 481.5H782M770 471.5H771" stroke="#ff0000" fill="none"/>
<path d="M319 725.5H743" stroke="#ff0000"/>
<path d="M578 280.5H592M591 273.5H653M652 280.5H657M656 363.5H713M714 363.5H726M709 371.5H715M717 371.5H719M725 333.5H729M730 333.5H734M740 333.5H747M748 333.5H753M758 333.5H765M767 333.5H774M780 333.5H783M728 341.5H731M733 341.5H740M746 341.5H749M753 341.5H756M764 341.5H768M776 341.5H780M781 341.5H784M739 326.5H741M752 326.5H759M773 326.5H777M779 348.5H781M783 318.5H787M786 310.5H788M787 303.5H790M789 288.5H805M808 288.5H824M826 288.5H831M849 288.5H854M861 288.5H867M869 288.5H879M882 288.5H921M922 288.5H947M957 288.5H960M965 288.5H973M982 288.5H985M987 288.5H989M990 288.5H992M798 295.5H800M804 295.5H809M823 295.5H827M836 295.5H840M841 295.5H850M852 295.5H862M866 295.5H870M880 295.5H883M885 295.5H888M920 295.5H923M925 295.5H927M945 295.5H952M954 295.5H958M959 295.5H963M830 303.5H834M835 303.5H837M839 303.5H842M843 303.5H846M854 303.5H859M877 303.5H882M951 303.5H955M962 303.5H966M973 303.5H976M972 310.5H975M833 280.5H836M905 280.5H908M911 280.5H914M928 280.5H930M975 280.5H983M984 280.5H1003" stroke="#ff0000" stroke-width="3" fill="none"/>
</svg></body></html>
